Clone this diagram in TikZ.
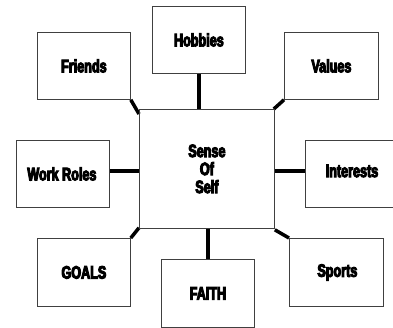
\documentclass[tikz,border=0pt]{standalone}
\usepackage{fontspec}
\newfontfamily\lbl{Liberation Sans}[UprightFont={* Bold},FakeStretch=0.7,FakeBold=5.5]
\begin{document}
\begin{tikzpicture}[x=1pt,y=-1pt,
  box/.style={draw=black!75,line width=0.8pt,fill=white,anchor=north west,inner sep=0pt},
  txt/.style={font=\lbl\fontsize{18}{18}\selectfont,align=center},
  link/.style={line width=3.5pt,black}]
\useasboundingbox (0,0) rectangle (393,328);
\clip (0,0) rectangle (393,328);
% boxes
\node[box,minimum width=93pt,minimum height=67pt] (hob) at (152,6) {};
\node[box,minimum width=93pt,minimum height=67pt] (fri) at (37,32) {};
\node[box,minimum width=94pt,minimum height=67pt] (val) at (284,32) {};
\node[box,minimum width=135pt,minimum height=119pt] (cen) at (139,109) {};
\node[box,minimum width=93pt,minimum height=67pt] (wor) at (16,140) {};
\node[box,minimum width=100pt,minimum height=67pt] (int) at (305,140) {};
\node[box,minimum width=93pt,minimum height=68pt] (goa) at (37,238) {};
\node[box,minimum width=93pt,minimum height=68pt] (fai) at (161,259) {};
\node[box,minimum width=94pt,minimum height=68pt] (spo) at (289,238) {};
% connectors
\draw[link] (hob.south) -- (hob.south |- cen.north);
\draw[link] (fai.north) -- (fai.north |- cen.south);
\draw[link] (wor.east |- 0,171) -- (cen.west |- 0,171);
\draw[link] (int.west |- 0,171) -- (cen.east |- 0,171);
\draw[link] (fri.south east) -- ([yshift=-5pt]cen.north west);
\draw[link] (val.south west) -- ([xshift=-1pt]cen.north east);
\draw[link] (goa.north east) -- ([yshift=1pt]cen.south west);
\draw[link] (spo.north west) -- ([yshift=-1pt]cen.south east);
% redraw box borders over connector ends
\foreach \n in {hob,fri,val,cen,wor,int,goa,fai,spo}{\draw[black!75,line width=0.8pt] (\n.north west) rectangle (\n.south east);}
% labels
\node[txt] (thob) at (hob.center) {Hobbies};
\node[txt] (tfri) at (fri.center) {Friends};
\node[txt] (tval) at (val.center) {Values};
\node[txt] (tcen) at (cen.center) {Sense\\Of\\Self};
\node[txt] (twor) at ([xshift=-1pt]wor.center) {Work Roles};
\node[txt] (tint) at (352,171) {Interests};
\node[txt] (tgoa) at (goa.center) {GOALS};
\node[txt] (tfai) at (fai.center) {FAITH};
\node[txt] (tspo) at ([xshift=1pt]spo.center) {Sports};
\end{tikzpicture}
\end{document}
